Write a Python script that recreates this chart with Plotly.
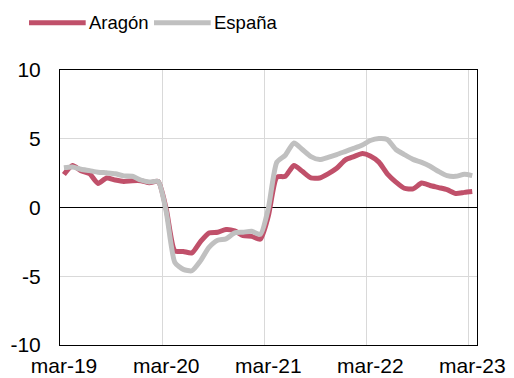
import plotly.graph_objects as go

# Monthly series, mar-2019 .. mar-2023 (mid-month points)
meses = [f"{2019 + (2 + i) // 12}-{(2 + i) % 12 + 1:02d}-15" for i in range(49)]

aragon = [2.4, 3.05, 2.68, 2.45, 1.75, 2.15, 2.0, 1.9, 1.95, 1.95, 1.8, 1.9,
          -0.1, -3.15, -3.2, -3.3, -2.5, -1.85, -1.8, -1.6, -1.7, -2.05, -2.1, -2.3,
          -0.65, 2.2, 2.27, 3.05, 2.63, 2.15, 2.15, 2.45, 2.85, 3.45, 3.7, 3.92,
          3.75, 3.3, 2.45, 1.85, 1.4, 1.35, 1.78, 1.6, 1.45, 1.3, 1.02, 1.1, 1.16]

espana = [2.9, 2.95, 2.78, 2.68, 2.57, 2.52, 2.45, 2.3, 2.27, 2.0, 1.85, 1.9,
          -0.3, -4.0, -4.5, -4.6, -3.9, -2.9, -2.38, -2.28, -1.84, -1.8, -1.73, -1.95,
          -0.1, 3.3, 3.8, 4.7, 4.22, 3.7, 3.49, 3.65, 3.85, 4.07, 4.3, 4.55,
          4.87, 5.02, 4.95, 4.22, 3.85, 3.5, 3.28, 3.0, 2.62, 2.32, 2.27, 2.42, 2.32]

series = [("Aragón", aragon, "#C0506A"), ("España", espana, "#C0C0C0")]

tick_vals = ["2019-03-01", "2020-03-01", "2021-03-01", "2022-03-01", "2023-03-01"]
tick_text = ["mar-19", "mar-20", "mar-21", "mar-22", "mar-23"]

FONT = "Liberation Sans, Arial, sans-serif"

fig = go.Figure()
for nombre, valores, color in series:
    fig.add_trace(go.Scatter(x=meses, y=valores, name=nombre, mode="lines",
                             line=dict(color=color, width=5, shape="spline", smoothing=0.6),
                             showlegend=False))

# Legend row above the plot: long line swatch followed by the series name
legend_x = [(-0.0743, 0.0616), (0.2254, 0.3614)]
for (x0, x1), (nombre, _, color) in zip(legend_x, series):
    fig.add_shape(type="line", xref="paper", yref="paper", x0=x0, x1=x1, y0=1.172, y1=1.172,
                  line=dict(color=color, width=5))
    fig.add_annotation(xref="paper", yref="paper", x=x1 + 0.004, y=1.172, text=nombre,
                       showarrow=False, xanchor="left", yanchor="middle",
                       font=dict(family=FONT, size=18.5, color="black"))

fig.update_layout(
    width=514, height=378,
    margin=dict(l=60, r=37, t=70, b=33),
    paper_bgcolor="white", plot_bgcolor="white",
    font=dict(family=FONT, size=21, color="black"),
    showlegend=False,
)
fig.update_xaxes(range=["2019-03-01", "2023-04-01"], tickvals=tick_vals, ticktext=tick_text,
                 showgrid=True, gridcolor="#D9D9D9", gridwidth=1,
                 showline=True, linecolor="black", linewidth=1, mirror=True,
                 ticks="", tickfont=dict(size=21), zeroline=False,
                 automargin=False, ticklabelstandoff=2, ticklabelshift=4)
fig.update_yaxes(range=[-10, 10], tickvals=[-10, -5, 0, 5, 10],
                 ticktext=["-10", "-5", "0", "5", "10"],
                 showgrid=True, gridcolor="#D9D9D9", gridwidth=1,
                 zeroline=True, zerolinecolor="black", zerolinewidth=1,
                 showline=True, linecolor="black", linewidth=1, mirror=True,
                 ticks="", tickfont=dict(size=21), automargin=False,
                 ticklabelstandoff=14)

fig.write_html("out.html")
